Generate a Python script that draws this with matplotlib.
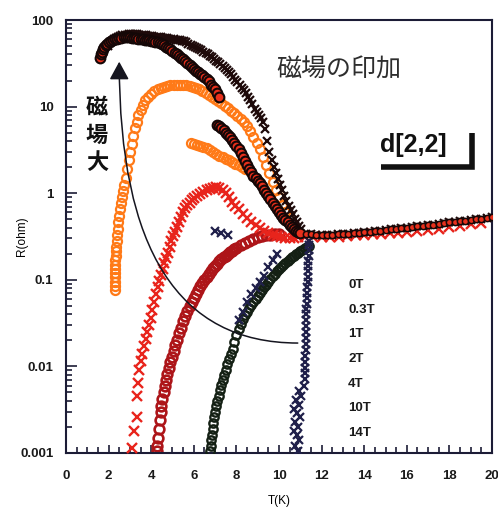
import matplotlib
matplotlib.use("Agg")
import matplotlib.pyplot as plt
from matplotlib.patches import FancyArrowPatch
from matplotlib.ticker import MultipleLocator, FixedLocator, LogLocator, NullFormatter

plt.rcParams['font.family'] = ['Liberation Sans', 'Noto Sans CJK JP', 'DejaVu Sans']

# ---------------- data ----------------
labels = ["0T", "0.3T", "1T", "2T", "4T", "10T", "14T"]

T_0T = [11.42, 11.41, 11.40, 11.39, 11.38, 11.37, 11.36, 11.35, 11.34, 11.33,
        11.32, 11.31, 11.30, 11.29, 11.28, 11.27, 11.27, 11.26, 11.26, 11.25,
        11.25, 11.24, 11.24, 11.23, 11.22, 11.20, 11.18, 10.95, 11.05, 10.80,
        10.95, 10.70, 10.85, 11.00, 10.75, 10.90, 10.70, 10.85, 10.95, 10.75,
        10.88,
        7.0, 7.3, 7.6, 8.1, 8.3, 8.5, 8.7, 8.9, 9.1, 9.3, 9.5, 9.7, 9.9]
R_0T = [0.28, 0.25, 0.22, 0.19, 0.165, 0.145, 0.125, 0.108, 0.094, 0.082,
        0.071, 0.061, 0.053, 0.046, 0.040, 0.034, 0.029, 0.025, 0.021, 0.018,
        0.0155, 0.0132, 0.0113, 0.0097, 0.0083, 0.0071, 0.0060, 0.0052, 0.0046, 0.0041,
        0.0036, 0.0032, 0.0029, 0.0026, 0.0023, 0.0020, 0.0018, 0.0016, 0.0014, 0.0012,
        0.00105,
        0.37, 0.35, 0.33, 0.034, 0.042, 0.055, 0.068, 0.080, 0.095, 0.11, 0.14, 0.17, 0.20]

T_03T = [6.78, 6.80, 6.82, 6.85, 6.88, 6.92, 6.96, 7.00, 7.05, 7.10,
         7.16, 7.22, 7.28, 7.35, 7.42, 7.50, 7.58, 7.66, 7.74, 7.82,
         7.90, 8.00, 8.10, 8.20, 8.30, 8.40, 8.50, 8.60, 8.70, 8.80,
         8.90, 9.00, 9.10, 9.20, 9.30, 9.40, 9.50, 9.60, 9.70, 9.80,
         9.90, 10.00, 10.10, 10.20, 10.30, 10.40, 10.50, 10.60, 10.70, 10.80,
         10.90, 11.00, 11.10, 11.20, 11.30, 11.40]
R_03T = [0.00105, 0.0012, 0.0014, 0.0016, 0.0019, 0.0022, 0.0026, 0.0030, 0.0035, 0.0040,
         0.0046, 0.0053, 0.0061, 0.0070, 0.0080, 0.0092, 0.0106, 0.0122, 0.014, 0.016,
         0.019, 0.023, 0.027, 0.031, 0.035, 0.039, 0.043, 0.047, 0.051, 0.055,
         0.060, 0.065, 0.070, 0.076, 0.082, 0.088, 0.095, 0.102, 0.110, 0.118,
         0.126, 0.134, 0.142, 0.150, 0.158, 0.166, 0.174, 0.182, 0.190, 0.198,
         0.206, 0.214, 0.222, 0.230, 0.238, 0.246]

T_1T = [4.25, 4.28, 4.32, 4.36, 4.40, 4.44, 4.48, 4.53, 4.58, 4.64,
        4.70, 4.76, 4.83, 4.90, 4.97, 5.05, 5.13, 5.22, 5.31, 5.40,
        5.50, 5.60, 5.70, 5.80, 5.90, 6.00, 6.10, 6.20, 6.30, 6.40,
        6.50, 6.60, 6.70, 6.80, 6.90, 7.00, 7.10, 7.20, 7.30, 7.40,
        7.50, 7.60, 7.70, 7.80, 7.90, 8.00, 8.20, 8.40, 8.60, 8.80,
        9.00, 9.20, 9.40, 9.60, 9.80, 10.00]
R_1T = [0.00105, 0.0012, 0.0015, 0.0019, 0.0024, 0.0030, 0.0035, 0.0042, 0.0050, 0.0060,
        0.0070, 0.0082, 0.0096, 0.0112, 0.013, 0.015, 0.0175, 0.020, 0.024, 0.028,
        0.033, 0.038, 0.044, 0.050, 0.056, 0.062, 0.069, 0.076, 0.084, 0.092,
        0.100, 0.109, 0.118, 0.127, 0.136, 0.145, 0.154, 0.163, 0.172, 0.181,
        0.190, 0.199, 0.208, 0.217, 0.226, 0.235, 0.252, 0.268, 0.283, 0.297,
        0.309, 0.319, 0.327, 0.333, 0.337, 0.340]

T_2T = [3.10, 3.20, 3.33, 3.33, 3.36, 3.42, 3.50, 3.58, 3.66, 3.74,
        3.82, 3.90, 3.98, 4.06, 4.14, 4.22, 4.30, 4.38, 4.46, 4.54,
        4.62, 4.70, 4.78, 4.86, 4.94, 5.02, 5.10, 5.20, 5.30, 5.40,
        5.50, 5.60, 5.70, 5.80, 5.90, 6.00, 6.15, 6.30, 6.45, 6.60,
        6.75, 6.90, 7.05, 7.20, 7.35, 7.50, 7.65, 7.80, 7.95, 8.10,
        8.30, 8.50, 8.70, 8.90, 9.10, 9.30, 9.50, 9.70, 9.90, 10.10,
        10.30, 10.50, 10.70, 10.90,
        11.2, 11.6, 12.0, 12.4, 12.8, 13.2, 13.6, 14.0, 14.4, 14.8,
        15.2, 15.6, 16.0, 16.5, 17.0, 17.5, 18.0, 18.5, 19.0, 19.5]
R_2T = [0.00115, 0.0018, 0.0026, 0.0045, 0.0065, 0.0090, 0.0115, 0.0140, 0.0170, 0.0205,
        0.025, 0.030, 0.036, 0.045, 0.056, 0.068, 0.082, 0.097, 0.115, 0.135,
        0.155, 0.178, 0.205, 0.24, 0.28, 0.32, 0.36, 0.41, 0.47, 0.53,
        0.60, 0.67, 0.73, 0.78, 0.83, 0.88, 0.94, 0.99, 1.04, 1.08,
        1.12, 1.15, 1.17, 1.16, 1.10, 1.00, 0.90, 0.80, 0.72, 0.65,
        0.58, 0.52, 0.47, 0.43, 0.40, 0.37, 0.35, 0.33, 0.32, 0.31,
        0.30, 0.30, 0.30, 0.31,
        0.31, 0.31, 0.31, 0.31, 0.315, 0.32, 0.325, 0.33, 0.335, 0.34,
        0.345, 0.35, 0.36, 0.37, 0.38, 0.39, 0.41, 0.42, 0.44, 0.455]

T_4T = [2.28, 2.28, 2.29, 2.29, 2.30, 2.30, 2.31, 2.32, 2.33, 2.34,
        2.36, 2.38, 2.40, 2.43, 2.46, 2.50, 2.54, 2.58, 2.63, 2.68,
        2.74, 2.80, 2.87, 2.94, 3.01, 3.08, 3.16, 3.24, 3.32, 3.40,
        3.50, 3.60, 3.72, 3.85, 4.00, 4.15, 4.30, 4.45, 4.60, 4.75,
        4.90, 5.05, 5.20, 5.35, 5.50, 5.65, 5.80, 5.95, 6.10, 6.25,
        6.40, 6.55, 6.70, 6.85, 7.00, 7.15, 7.30, 7.45, 7.60, 7.75,
        7.90, 8.05, 8.20, 8.35, 8.50, 8.65, 8.80, 8.95, 9.10, 9.25,
        9.40, 9.55, 9.70, 9.85, 10.00, 10.15, 10.30,
        5.85, 6.00, 6.15, 6.30, 6.45, 6.60, 6.75, 6.90, 7.05, 7.20,
        7.35, 7.50, 7.65, 7.80, 7.95, 8.10, 8.25, 8.40]
R_4T = [0.076, 0.085, 0.095, 0.107, 0.12, 0.135, 0.15, 0.17, 0.19, 0.215,
        0.24, 0.28, 0.33, 0.39, 0.46, 0.55, 0.65, 0.77, 0.90, 1.05,
        1.25, 1.5, 1.9, 2.4, 3.0, 3.7, 4.6, 5.6, 6.7, 7.9,
        9.2, 10.5, 11.8, 13.0, 14.1, 15.0, 15.8, 16.4, 16.9, 17.3,
        17.6, 17.8, 17.9, 17.9, 17.8, 17.6, 17.3, 16.9, 16.4, 15.8,
        15.1, 14.4, 13.7, 13.0, 12.3, 11.6, 10.9, 10.2, 9.6, 9.0,
        8.4, 7.8, 7.2, 6.6, 5.9, 5.2, 4.5, 3.8, 3.2, 2.6,
        2.1, 1.7, 1.35, 1.1, 0.9, 0.74, 0.6,
        3.8, 3.7, 3.6, 3.5, 3.4, 3.3, 3.15, 3.0, 2.85, 2.7,
        2.6, 2.5, 2.4, 2.3, 2.2, 2.1, 2.0, 1.9]

T_10T = [1.62, 1.66, 1.70, 1.75, 1.80, 1.86, 1.92, 2.00, 2.10, 2.20,
         2.30, 2.40, 2.50, 2.60, 2.70, 2.80, 2.90, 3.00, 3.10, 3.20,
         3.30, 3.40, 3.50, 3.60, 3.70, 3.80, 3.90, 4.00, 4.10, 4.20,
         4.30, 4.40, 4.50, 4.60, 4.70, 4.80, 4.90, 5.00, 5.10, 5.20,
         5.30, 5.40, 5.50, 5.60, 5.70, 5.80, 5.90, 6.00, 6.10, 6.20,
         6.30, 6.40, 6.50, 6.60, 6.70, 6.80, 6.90, 7.00, 7.10, 7.20,
         7.10, 7.20, 7.30, 7.40, 7.50, 7.60, 7.70, 7.80, 7.90, 8.00,
         8.10, 8.20, 8.30, 8.40, 8.50, 8.60, 8.70, 8.80, 8.90, 9.00,
         9.10, 9.20, 9.30, 9.40, 9.50, 9.60, 9.70, 9.80, 9.90, 10.00,
         10.10, 10.20, 10.30, 10.40, 10.50, 10.60, 10.70, 10.80, 10.90, 11.00]
R_10T = [36, 40, 43, 46, 49, 51, 53, 55, 57, 59,
         60, 61, 62, 62.5, 63, 63, 63, 63, 62.5, 62,
         61.5, 61, 60.5, 60, 59.5, 59, 58.5, 58, 57, 56,
         55, 54, 52.5, 51, 49, 47.5, 46, 44, 42, 40.5,
         38.5, 36.5, 35, 33.5, 32, 30.5, 29, 27.5, 26, 25,
         24, 23, 22, 21, 19.5, 18, 17, 16, 14.5, 13,
         6.2, 5.9, 5.6, 5.3, 5.0, 4.7, 4.4, 4.1, 3.8, 3.5,
         3.2, 2.9, 2.6, 2.35, 2.1, 1.9, 1.75, 1.6, 1.5, 1.4,
         1.3, 1.2, 1.1, 1.0, 0.92, 0.85, 0.78, 0.72, 0.66, 0.61,
         0.56, 0.52, 0.49, 0.46, 0.43, 0.41, 0.39, 0.37, 0.36, 0.35]

T_14T = [1.95, 2.05, 2.15, 2.25, 2.35, 2.45, 2.55, 2.65, 2.75, 2.85,
         2.95, 3.05, 3.15, 3.25, 3.35, 3.45, 3.55, 3.65, 3.75, 3.85,
         3.95, 4.05, 4.15, 4.25, 4.35, 4.45, 4.55, 4.65, 4.75, 4.85,
         4.95, 5.05, 5.15, 5.25, 5.35, 5.45, 5.55, 5.65, 5.75, 5.85,
         5.95, 6.05, 6.15, 6.25, 6.35, 6.45, 6.55, 6.65, 6.75, 6.85,
         6.95, 7.05, 7.15, 7.25, 7.35, 7.45, 7.55, 7.65, 7.75, 7.85,
         7.95, 8.05, 8.15, 8.25, 8.35, 8.45, 8.55, 8.65, 8.75, 8.85,
         8.95, 9.05, 9.15, 9.25, 9.35, 9.45, 9.55, 9.65, 9.75, 9.85,
         9.95, 10.05, 10.15, 10.25, 10.35, 10.45, 10.55, 10.65, 10.75, 10.85,
         10.95, 11.05]
R_14T = [50, 54, 57, 60, 62, 64, 65.5, 66.5, 67.5, 68,
         68.5, 69, 69, 69, 68.5, 68, 67.5, 67, 66.5, 66,
         65.5, 65, 64.5, 64, 63.5, 63, 62.5, 62, 61.5, 61,
         60.5, 60, 59.5, 59, 58.5, 57.5, 56.5, 55, 53.5, 52,
         50.5, 49, 47.5, 46, 44.5, 43, 41.5, 40, 38.5, 37,
         35.5, 34, 32.5, 31, 29.5, 28, 26.5, 25, 23.5, 22,
         20.5, 19, 17.8, 16.6, 15.4, 14.2, 13, 11.8, 10.6, 9.5,
         8.6, 7.9, 7.3, 6.6, 5.5, 4.0, 3.0, 2.4, 2.0, 1.7,
         1.45, 1.25, 1.08, 0.94, 0.82, 0.72, 0.64, 0.57, 0.51, 0.46,
         0.42, 0.39]

# common normal-state branch (all fields)
T_norm = [11.25, 11.5, 11.75, 12.0, 12.25, 12.5, 12.75, 13.0, 13.25, 13.5,
          13.75, 14.0, 14.25, 14.5, 14.75, 15.0, 15.25, 15.5, 15.75, 16.0,
          16.25, 16.5, 16.75, 17.0, 17.25, 17.5, 17.75, 18.0, 18.25, 18.5,
          18.75, 19.0, 19.25, 19.5, 19.75, 20.0]
R_norm = [0.34, 0.335, 0.33, 0.33, 0.33, 0.332, 0.335, 0.338, 0.342, 0.346,
          0.35, 0.355, 0.36, 0.365, 0.37, 0.376, 0.382, 0.388, 0.394, 0.40,
          0.407, 0.414, 0.421, 0.428, 0.435, 0.443, 0.451, 0.459, 0.467, 0.475,
          0.483, 0.492, 0.501, 0.51, 0.52, 0.53]

x_ticks = [0, 2, 4, 6, 8, 10, 12, 14, 16, 18, 20]
y_ticks = [0.001, 0.01, 0.1, 1, 10, 100]
y_ticklabels = ["0.001", "0.01", "0.1", "1", "10", "100"]

# annotation positions (data coords)
legend_x = 13.25
legend_y = [0.087, 0.0448, 0.0237, 0.0122, 0.00627, 0.0033, 0.0017]
vert_chars = ["磁", "場", "大"]
vert_x = 1.46
vert_y = [9.64, 4.70, 2.29]
arrow_start = (10.88, 0.0186)
arrow_end = (2.50, 33.0)

# ---------------- figure ----------------
fig = plt.figure(figsize=(4.98, 5.08), dpi=100)
ax = fig.add_axes([0.1325, 0.1083, 0.8555, 0.8523])
ax.set_yscale('log')
ax.set_xlim(0, 20)
ax.set_ylim(1e-3, 100)

ax.plot(T_1T, R_1T, ls='none', marker='o', ms=7, mfc='none', mec='#ad1519', mew=1.9, zorder=2)
ax.plot(T_2T, R_2T, ls='none', marker='x', ms=6.5, color='#e8241c', mew=1.7, zorder=3)
ax.plot(T_03T, R_03T, ls='none', marker='o', ms=6, mfc='none', mec='#142014', mew=1.7, zorder=3)
ax.plot(T_0T, R_0T, ls='none', marker='x', ms=5.5, color='#20204a', mew=1.6, zorder=4)
ax.plot(T_4T, R_4T, ls='none', marker='o', ms=6.5, mfc='none', mec='#ff7a18', mew=1.6, zorder=4)
ax.plot(T_14T, R_14T, ls='none', marker='x', ms=6, color='#1e0a0a', mew=1.6, zorder=5)
ax.plot(T_norm, R_norm, ls='none', marker='x', ms=5.5, color='#1e0a0a', mew=1.5, zorder=5)
ax.plot(T_10T, R_10T, ls='none', marker='o', ms=7, mfc='#e8301c', mec='#140707', mew=1.5, zorder=6)
ax.plot(T_norm, R_norm, ls='none', marker='o', ms=4.5, mfc='#e8301c', mec='#160808', mew=1.1, zorder=6)

# legend labels
for lab, ly in zip(labels, legend_y):
    ax.text(legend_x, ly, lab, ha='left', va='center', fontsize=9.5,
            fontweight='bold', color='#1a1a1a', zorder=7)

# curved arrow
arr = FancyArrowPatch(posA=arrow_start, posB=arrow_end,
                      connectionstyle="angle3,angleA=0,angleB=90",
                      arrowstyle="-|>,head_length=1.1,head_width=0.6",
                      mutation_scale=10, lw=1.1, color='#15151f',
                      shrinkA=0, shrinkB=0, zorder=8)
ax.add_patch(arr)

for ch, vy in zip(vert_chars, vert_y):
    ax.text(vert_x, vy, ch, ha='center', va='center', fontsize=16, fontweight='bold',
            family=['Noto Sans CJK JP', 'DejaVu Sans'], color='#111111', zorder=8)

ax.text(12.83, 26.5, "磁場の印加", ha='center', va='center', fontsize=18,
        family=['Noto Sans CJK JP', 'DejaVu Sans'], color='#2e2e2e', zorder=8)
ax.text(16.32, 3.6, "d[2,2]", ha='center', va='center', fontsize=18,
        fontweight='bold', color='#111111', zorder=8)
ax.plot([14.81, 19.06, 19.06], [2.0, 2.0, 4.96], color='#111111', lw=4.0,
        solid_joinstyle='miter', solid_capstyle='butt', zorder=8)

# axes styling
for s in ax.spines.values():
    s.set_linewidth(1.5)
    s.set_color('#1c1c36')
ax.xaxis.set_major_locator(FixedLocator(x_ticks))
ax.xaxis.set_minor_locator(MultipleLocator(0.5))
ax.set_xticklabels([str(v) for v in x_ticks])
ax.yaxis.set_major_locator(FixedLocator(y_ticks))
ax.set_yticklabels(y_ticklabels)
ax.yaxis.set_minor_locator(LogLocator(base=10, subs=range(2, 10)))
ax.yaxis.set_minor_formatter(NullFormatter())
ax.tick_params(which='both', direction='in', top=False, right=False,
               color='#1c1c36', width=1.2)
ax.tick_params(which='major', length=8, labelsize=9.5, pad=9)
ax.tick_params(which='minor', length=4)
ax.tick_params(axis='x', which='major', length=6, pad=12)
for lbl in ax.get_xticklabels() + ax.get_yticklabels():
    lbl.set_fontweight('bold')
    lbl.set_color('#1a1a1a')

ax.set_xlabel("T(K)", fontsize=8.5)
ax.set_ylabel("R(ohm)", fontsize=8.5)
ax.xaxis.set_label_coords(0.5, -0.097)
ax.yaxis.set_label_coords(-0.088, 0.5)

fig.savefig("out.png", dpi=100)
